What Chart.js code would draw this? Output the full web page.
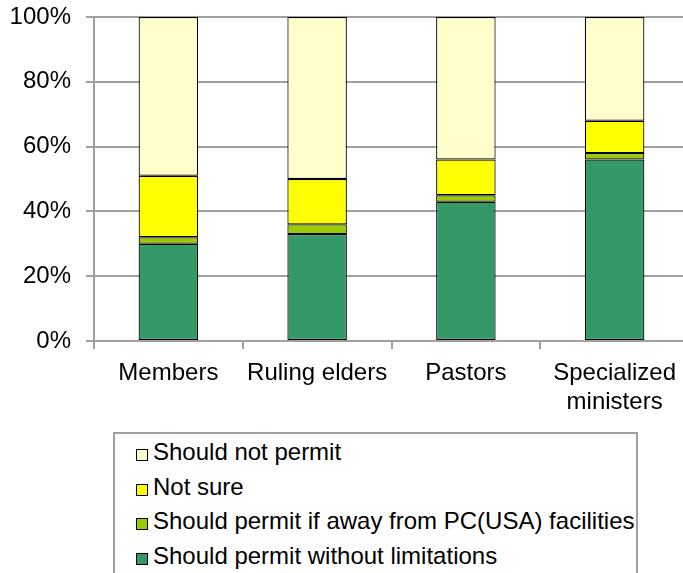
<!DOCTYPE html>
<html>
<head>
<meta charset="utf-8">
<script src="https://cdn.jsdelivr.net/npm/chart.js@4/dist/chart.umd.min.js"></script>
<style>
  html,body{margin:0;padding:0;background:#fff;overflow:hidden;width:683px;height:573px}
  #wrap{position:relative;width:700px;height:573px}
  #c{position:absolute;left:0;top:0}
  #legend{position:absolute;left:113px;top:432px;width:525px;height:170px;border:2px solid #a0a0a0;
    padding-top:1px;font:24px "Liberation Sans",Arial,sans-serif;color:#000;box-sizing:border-box}
  #legend .row{height:34.6px;line-height:34.6px;white-space:nowrap}
  #legend .sw{display:inline-block;width:10px;height:10px;border:1px solid #000;margin:0 5px 0 21px;vertical-align:-1px}
</style>
</head>
<body>
<div id="wrap">
  <canvas id="c" width="700" height="420"></canvas>
  <div id="legend"></div>
</div>
<script>
// groups along the x axis
const CATEGORIES = ["Members", "Ruling elders", "Pastors", ["Specialized", "ministers"]];
// stacked from the bottom up (percent)
const WITHOUT_LIMITS = [30, 33, 43, 56];
const IF_AWAY = [2, 3, 2, 2];
const NOT_SURE = [19, 14, 11, 10];
const NOT_PERMIT = [49, 50, 44, 32];
const Y_TICKS = [0, 20, 40, 60, 80, 100];

const FONT = {family:'"Liberation Sans", Arial, sans-serif', size:24};
const GRID = "#a0a0a0";

const series = [
  {label:"Should permit without limitations", data:WITHOUT_LIMITS, color:"#339966"},
  {label:"Should permit if away from PC(USA) facilities", data:IF_AWAY, color:"#99cc00"},
  {label:"Not sure", data:NOT_SURE, color:"#ffff00"},
  {label:"Should not permit", data:NOT_PERMIT, color:"#ffffcc"}
];

new Chart(document.getElementById("c"), {
  type:"bar",
  data:{labels:CATEGORIES, datasets:series.map(s=>({
    label:s.label, data:s.data, backgroundColor:s.color, borderColor:"#000",
    borderWidth:1.2, borderSkipped:false, inflateAmount:0, barPercentage:0.4, categoryPercentage:1
  }))},
  options:{
    responsive:false, animation:false,
    layout:{padding:{top:17, right:11, left:0, bottom:0}},
    plugins:{legend:{display:false}, tooltip:{enabled:false}},
    scales:{
      x:{stacked:true,
        grid:{offset:true, drawOnChartArea:false, color:GRID, lineWidth:2, tickLength:8},
        border:{color:GRID, width:2},
        ticks:{font:FONT, color:"#000", padding:10, maxRotation:0, autoSkip:false},
        afterFit:s=>{ s.height = 79; s.paddingLeft = 0; s.paddingRight = 0; }
      },
      y:{stacked:true, min:0, max:100,
        afterBuildTicks:s=>{ s.ticks = Y_TICKS.map(v=>({value:v})); },
        grid:{color:GRID, lineWidth:2, tickLength:8},
        border:{color:GRID, width:2},
        ticks:{font:FONT, color:"#000", padding:15, callback:v=>v+"%"},
        afterFit:s=>{ s.width = 94; s.paddingTop = 0; s.paddingBottom = 0; }
      }
    }
  }
});

// legend, Excel style: top series first
const lg = document.getElementById("legend");
series.slice().reverse().forEach(s=>{
  const row = document.createElement("div"); row.className = "row";
  const sw = document.createElement("span"); sw.className = "sw"; sw.style.background = s.color;
  row.appendChild(sw); row.appendChild(document.createTextNode(s.label));
  lg.appendChild(row);
});
</script>
</body>
</html>
